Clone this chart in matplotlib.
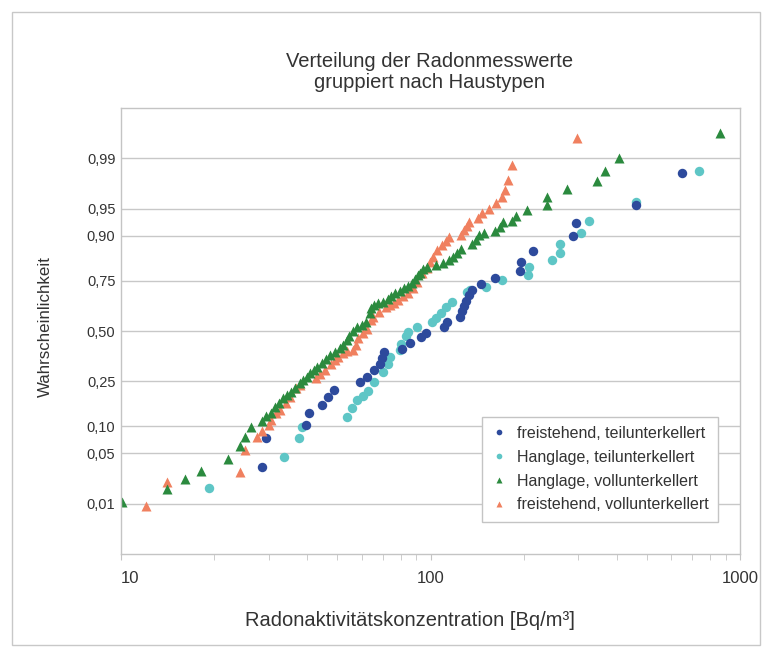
import numpy as np
import matplotlib
matplotlib.use("Agg")
import matplotlib.pyplot as plt
from matplotlib.ticker import FixedLocator, FixedFormatter, NullLocator, NullFormatter, LogLocator
from matplotlib.patches import Rectangle
from statistics import NormalDist

plt.rcParams['font.family'] = ['Liberation Sans', 'DejaVu Sans']

# freistehend, teilunterkellert
ft_teil_x = [28.5, 29.4, 39.6, 40.5, 44.6, 46.7, 48.8, 59.2, 62.4, 65.7, 68.7, 69.7, 70.8, 80.9, 85.9,
             93.2, 96.7, 110.6, 113.1, 124.5, 126.4, 128.3, 130.2, 133.2, 136.2, 145.6, 161.6, 194.6,
             196.0, 214.4, 288.7, 295.2, 461.0, 649.0]
ft_teil_p = [0.034, 0.075, 0.103, 0.135, 0.160, 0.187, 0.214, 0.246, 0.268, 0.300, 0.329, 0.358, 0.389,
             0.404, 0.436, 0.468, 0.489, 0.521, 0.548, 0.575, 0.606, 0.632, 0.657, 0.686, 0.710, 0.737,
             0.762, 0.790, 0.824, 0.859, 0.900, 0.927, 0.955, 0.983]

# Hanglage, teilunterkellert
hl_teil_x = [19.2, 33.6, 37.6, 38.4, 53.7, 55.7, 57.9, 60.5, 62.8, 65.6, 70.2, 72.9, 74.0, 79.7, 80.3,
             83.3, 84.5, 90.4, 101.1, 104.2, 108.1, 112.2, 117.4, 131.2, 134.1, 151.1, 170.3, 206.6,
             208.1, 246.9, 262.1, 262.1, 306.4, 325.2, 461.2, 737.0]
hl_teil_p = [0.0173, 0.0451, 0.075, 0.098, 0.124, 0.150, 0.176, 0.191, 0.210, 0.246, 0.291, 0.328, 0.363,
             0.399, 0.431, 0.473, 0.495, 0.521, 0.548, 0.569, 0.596, 0.626, 0.652, 0.700, 0.710, 0.723,
             0.754, 0.775, 0.805, 0.830, 0.853, 0.879, 0.906, 0.931, 0.959, 0.9843]

# Hanglage, vollunterkellert
hl_voll_x = [10.07, 14.08, 16.09, 18.13, 22.16, 24.23, 25.14, 26.30, 28.5, 29.4, 30.51, 31.4, 32.37,
             33.36, 34.37, 35.41, 36.48, 37.87, 38.71, 39.88, 40.79, 42.02, 42.97, 44.59, 45.94, 47.33,
             49.11, 50.99, 52.13, 53.70, 54.51, 56.16, 57.85, 60.05, 61.85, 63.7, 64.2, 65.65, 67.63,
             70.2, 72.86, 74.5, 76.75, 79.67, 82.06, 84.5, 87.1, 89.05, 91.04, 92.45, 94.53, 97.4,
             104.2, 109.7, 114.7, 118.2, 121.8, 125.5, 136.2, 140.3, 143.4, 148.9, 161.6, 167.7, 171.5,
             183.4, 188.9, 205.0, 237.8, 237.8, 276.1, 345.0, 366.2, 406.5, 861.7]
hl_voll_p = [0.0107, 0.0168, 0.0233, 0.0298, 0.0425, 0.0609, 0.0770, 0.098, 0.113, 0.126, 0.135, 0.153,
             0.166, 0.184, 0.195, 0.206, 0.221, 0.242, 0.255, 0.268, 0.286, 0.300, 0.314, 0.333, 0.353,
             0.373, 0.389, 0.409, 0.425, 0.452, 0.473, 0.500, 0.521, 0.532, 0.548, 0.596, 0.622, 0.637,
             0.647, 0.652, 0.666, 0.681, 0.696, 0.705, 0.719, 0.728, 0.741, 0.758, 0.775, 0.782, 0.798,
             0.805, 0.813, 0.820, 0.830, 0.840, 0.853, 0.865, 0.879, 0.890, 0.902, 0.906, 0.911, 0.919,
             0.928, 0.930, 0.939, 0.948, 0.955, 0.964, 0.972, 0.978, 0.9843, 0.9900, 0.9961]

# freistehend, vollunterkellert
fs_voll_x = [12.04, 14.08, 24.23, 25.14, 27.49, 28.5, 30.04, 30.51, 31.66, 32.63, 34.12, 35.15, 36.75,
             37.87, 42.65, 43.97, 45.59, 47.68, 49.11, 50.20, 52.13, 53.70, 56.16, 57.42, 58.28, 60.50,
             62.3, 64.2, 65.16, 68.1, 71.8, 74.0, 76.2, 78.5, 81.45, 84.5, 87.75, 90.4, 93.8, 97.4,
             99.5, 101.9, 105.0, 108.9, 112.2, 114.7, 125.5, 128.3, 131.2, 133.2, 142.4, 146.7, 154.5,
             162.8, 170.3, 174.1, 178.0, 183.4, 297.4]
fs_voll_p = [0.0093, 0.0211, 0.0289, 0.0546, 0.0770, 0.0893, 0.103, 0.1155, 0.135, 0.144, 0.166, 0.187,
             0.221, 0.234, 0.264, 0.282, 0.300, 0.328, 0.348, 0.363, 0.383, 0.394, 0.399, 0.425, 0.462,
             0.489, 0.511, 0.559, 0.575, 0.601, 0.627, 0.637, 0.647, 0.662, 0.681, 0.696, 0.719, 0.745,
             0.782, 0.802, 0.823, 0.840, 0.862, 0.876, 0.887, 0.897, 0.902, 0.913, 0.921, 0.929, 0.935,
             0.944, 0.950, 0.957, 0.964, 0.971, 0.979, 0.9873, 0.9953]

prob_ticks = [0.01, 0.05, 0.10, 0.25, 0.50, 0.75, 0.90, 0.95, 0.99]
prob_labels = ['0,01', '0,05', '0,10', '0,25', '0,50', '0,75', '0,90', '0,95', '0,99']

_nd = NormalDist()
_ppf = np.vectorize(_nd.inv_cdf, otypes=[float])
_cdf = np.vectorize(_nd.cdf, otypes=[float])


def prob_fwd(p):
    p = np.clip(np.asarray(p, dtype=float), 1e-9, 1 - 1e-9)
    return _ppf(p)


def prob_inv(z):
    return _cdf(np.asarray(z, dtype=float))


fig = plt.figure(figsize=(7.7, 6.5), dpi=100)
fig.patch.set_facecolor('white')
ax = fig.add_axes([121 / 770, 96 / 650, 619 / 770, 446 / 650])

c_blue = '#2d4a9c'
c_teal = '#5ec6c6'
c_green = '#2b8a3e'
c_orange = '#f0805f'

h_teal, = ax.plot(hl_teil_x, hl_teil_p, ls='none', marker='o', ms=6.8, color=c_teal, mec='none',
                  label='Hanglage, teilunterkellert')
h_blue, = ax.plot(ft_teil_x, ft_teil_p, ls='none', marker='o', ms=6.8, color=c_blue, mec='none',
                  label='freistehend, teilunterkellert')
h_orange, = ax.plot(fs_voll_x, fs_voll_p, ls='none', marker='^', ms=6.8, color=c_orange, mec='none',
                    label='freistehend, vollunterkellert')
h_green, = ax.plot(hl_voll_x, hl_voll_p, ls='none', marker='^', ms=6.8, color=c_green, mec='none',
                   label='Hanglage, vollunterkellert')

ax.set_xscale('log')
ax.set_xlim(10, 1000)
ax.set_yscale('function', functions=(prob_fwd, prob_inv))
ax.set_ylim(0.00135, 0.99865)

ax.yaxis.set_major_locator(FixedLocator(prob_ticks))
ax.yaxis.set_major_formatter(FixedFormatter(prob_labels))
ax.yaxis.set_minor_locator(NullLocator())
ax.xaxis.set_major_locator(FixedLocator([10, 100, 1000]))
ax.xaxis.set_major_formatter(FixedFormatter(['10', '100', '1000']))
ax.xaxis.set_minor_locator(LogLocator(base=10, subs=np.arange(2, 10)))
ax.xaxis.set_minor_formatter(NullFormatter())

ax.grid(axis='y', color='#c8c8c8', lw=1.0)
ax.set_axisbelow(True)
for s in ax.spines.values():
    s.set_color('#c4c4c4')
    s.set_linewidth(1.0)

ax.tick_params(axis='y', length=0, pad=4, labelsize=10.5, labelcolor='#333333')
ax.tick_params(axis='x', which='major', length=4, color='#c4c4c4', pad=8, labelsize=12,
               labelcolor='#333333')
ax.tick_params(axis='x', which='minor', length=4, color='#c4c4c4')
# first label sits inside the plot, like in Excel
ax.get_xticklabels()[0].set_horizontalalignment('left')

fig.text(430 / 770, 1 - 72 / 650, 'Verteilung der Radonmesswerte\ngruppiert nach Haustypen',
         ha='center', va='center', fontsize=14.5, color='#333333', linespacing=1.1)
fig.text(410 / 770, 1 - 620 / 650, 'Radonaktivitätskonzentration [Bq/m³]',
         ha='center', va='center', fontsize=14.5, color='#333333')
fig.text(45 / 770, 1 - 327 / 650, 'Wahrscheinlichkeit', rotation=90,
         ha='center', va='center', fontsize=12.2, color='#333333')

leg = ax.legend(handles=[h_blue, h_teal, h_green, h_orange], loc='lower right',
                bbox_to_anchor=(0.9645, 0.0717), borderaxespad=0, fontsize=11.5, markerscale=0.6,
                handlelength=1.0, handletextpad=0.6, labelspacing=0.55, borderpad=0.6,
                fancybox=False, framealpha=1, edgecolor='#c4c4c4')
leg.get_frame().set_linewidth(1.0)
for t in leg.get_texts():
    t.set_color('#333333')

fig.patches.append(Rectangle((12 / 770, 5 / 650), 748 / 770, 633 / 650, transform=fig.transFigure,
                             fill=False, edgecolor='#c8c8c8', lw=1.0))

fig.savefig('out.png', dpi=100)
